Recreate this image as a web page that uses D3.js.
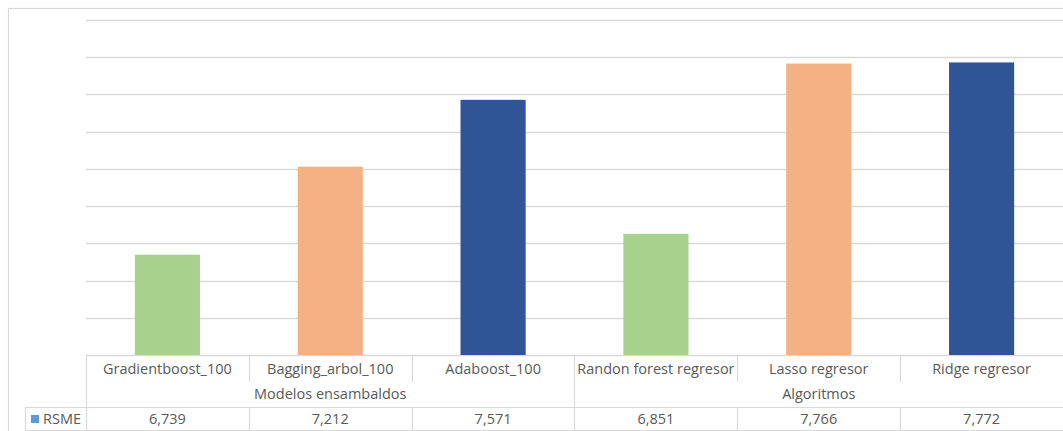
<!DOCTYPE html>
<html>
<head>
<meta charset="utf-8">
<script src="https://cdn.jsdelivr.net/npm/d3@7"></script>
<style>
  html, body { margin: 0; padding: 0; background: #fff; }
  svg { display: block; }
  text { font-family: "Open Sans", "Noto Sans", sans-serif; fill: #595959; }
</style>
</head>
<body>
<svg id="chart" width="1063" height="431"></svg>
<script>
// RSME per model, with the group each model belongs to
const categories = ["Gradientboost_100", "Bagging_arbol_100", "Adaboost_100",
                    "Randon forest regresor", "Lasso regresor", "Ridge regresor"];
const groups = ["Modelos ensambaldos", "Modelos ensambaldos", "Modelos ensambaldos",
                "Algoritmos", "Algoritmos", "Algoritmos"];
const rsme = [6.739, 7.212, 7.571, 6.851, 7.766, 7.772];
const seriesName = "RSME";
const barColors = ["#a9d18e", "#f4b183", "#2f5597"];

const svg = d3.select("#chart");
const W = 1063, H = 431;
const fontSize = 14.5;

const plot = { left: 86, right: 1063, top: 20, bottom: 355 };
const table = { catRow: 382, groupRow: 407, bottom: 430, legendLeft: 25 };
const grid = "#d9d9d9";

// outer chart frame
svg.append("rect")
  .attr("x", 8.5).attr("y", 8.5)
  .attr("width", W + 10).attr("height", H + 10)
  .attr("fill", "none").attr("stroke", "#d9d9d9").attr("stroke-width", 1.2);

const x = d3.scaleBand()
  .domain(categories)
  .range([plot.left, plot.right])
  .paddingInner(0.6)
  .paddingOuter(0.3);
const step = x.step();
const cellLeft = c => x(c) - step * 0.3;

const y = d3.scaleLinear().domain([6.2, 8.0]).range([plot.bottom, plot.top]);
const yTicks = d3.range(6.2, 8.0001, 0.2);

// horizontal gridlines
svg.append("g")
  .selectAll("line")
  .data(yTicks)
  .join("line")
  .attr("x1", plot.left).attr("x2", plot.right)
  .attr("y1", d => Math.round(y(d)) + 0.5).attr("y2", d => Math.round(y(d)) + 0.5)
  .attr("stroke", grid).attr("stroke-width", 1.3);

// bars
svg.append("g")
  .selectAll("rect")
  .data(rsme)
  .join("rect")
  .attr("x", (d, i) => x(categories[i]))
  .attr("width", x.bandwidth())
  .attr("y", d => y(d))
  .attr("height", d => y(y.domain()[0]) - y(d))
  .attr("fill", (d, i) => barColors[i % 3]);

// data table lines
const tl = svg.append("g").attr("stroke", grid).attr("stroke-width", 1.2);
const hline = (x1, x2, yy) => tl.append("line").attr("x1", x1).attr("x2", x2).attr("y1", yy + 0.5).attr("y2", yy + 0.5);
const vline = (xx, y1, y2) => tl.append("line").attr("x1", xx + 0.5).attr("x2", xx + 0.5).attr("y1", y1).attr("y2", y2);

hline(plot.left, plot.right, plot.bottom);
hline(table.legendLeft, plot.right, table.groupRow);
hline(table.legendLeft, plot.right, table.bottom);
vline(plot.left, plot.bottom, table.bottom);
vline(table.legendLeft, table.groupRow, table.bottom);

categories.forEach((c, i) => {
  if (i === 0) return;
  const xx = Math.round(cellLeft(c));
  if (groups[i] !== groups[i - 1]) {
    vline(xx, plot.bottom, table.bottom);
  } else {
    vline(xx, plot.bottom, table.catRow);
    vline(xx, table.groupRow, table.bottom);
  }
});

// category labels
svg.append("g")
  .selectAll("text")
  .data(categories)
  .join("text")
  .attr("x", c => x(c) + x.bandwidth() / 2)
  .attr("y", 374)
  .attr("text-anchor", "middle")
  .attr("font-size", fontSize)
  .text(c => c);

// group labels, centred over their span
const groupSpans = [];
groups.forEach((g, i) => {
  const last = groupSpans[groupSpans.length - 1];
  if (last && last.name === g) last.end = i;
  else groupSpans.push({ name: g, start: i, end: i });
});
svg.append("g")
  .selectAll("text")
  .data(groupSpans)
  .join("text")
  .attr("x", s => (cellLeft(categories[s.start]) + cellLeft(categories[s.end]) + step) / 2)
  .attr("y", 399)
  .attr("text-anchor", "middle")
  .attr("font-size", fontSize)
  .text(s => s.name);

// value row
const fmt = d3.formatLocale({ decimal: ",", thousands: ".", grouping: [3], currency: ["", ""] }).format(".3f");
svg.append("g")
  .selectAll("text")
  .data(rsme)
  .join("text")
  .attr("x", (d, i) => x(categories[i]) + x.bandwidth() / 2)
  .attr("y", 424)
  .attr("text-anchor", "middle")
  .attr("font-size", fontSize)
  .text(d => fmt(d));

// legend key + series name
svg.append("rect")
  .attr("x", 31).attr("y", 415).attr("width", 8).attr("height", 8)
  .attr("fill", "#5b9bd5");
svg.append("text")
  .attr("x", 43).attr("y", 424)
  .attr("font-size", fontSize)
  .text(seriesName);
</script>
</body>
</html>
